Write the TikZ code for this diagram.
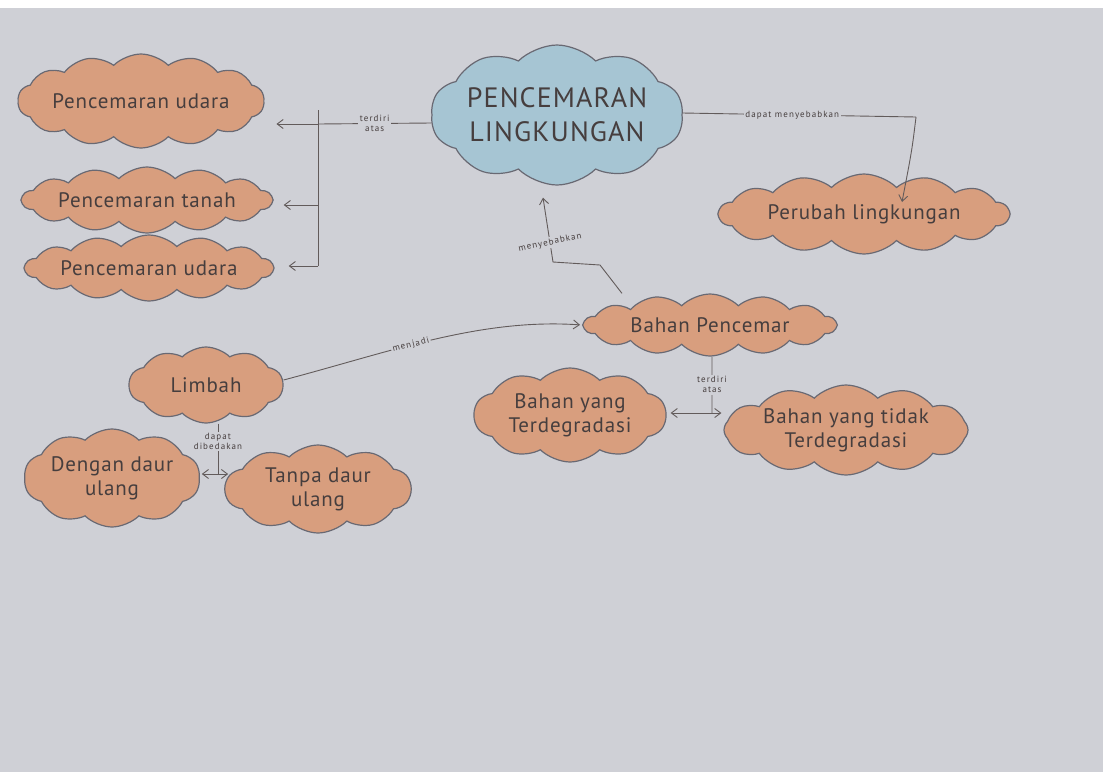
\documentclass[tikz,border=0pt]{standalone}
\usepackage{fontspec}
\setmainfont{PT Sans}
\usetikzlibrary{shapes.symbols,arrows.meta}
\definecolor{paper}{RGB}{207,208,214}
\definecolor{orangefill}{RGB}{216,158,126}
\definecolor{bluefill}{RGB}{166,197,211}
\definecolor{edge}{RGB}{105,105,115}
\definecolor{ink}{RGB}{70,62,62}
\tikzset{
 blob/.style={cloud, cloud puffs=#1, cloud puff arc=90, cloud ignores aspect,
   draw=edge, line width=1.2pt, fill=orangefill, text=ink,
   font=\fontsize{21}{24}\selectfont\addfontfeature{LetterSpace=4}, align=center, inner sep=0pt},
 conn/.style={draw=ink!85, line width=0.9pt},
 arr/.style={conn, -{Straight Barb[length=6pt,width=9pt]}},
 darr/.style={conn, {Straight Barb[length=6pt,width=9pt]}-{Straight Barb[length=6pt,width=9pt]}},
 lbl/.style={font=\fontsize{9}{10}\selectfont\addfontfeature{LetterSpace=12}, text=ink, inner sep=1.5pt, fill=paper, align=center}
}
\begin{document}
\begin{tikzpicture}[x=1pt,y=-1pt]
\useasboundingbox (0,0) rectangle (1103,772);
\fill[white] (0,0) rectangle (1103,8);
\fill[paper] (0,8) rectangle (1103,772);

% nodes
\node[blob=10, fill=bluefill, minimum width=252, minimum height=140,
      font=\fontsize{28}{34}\selectfont\addfontfeature{LetterSpace=4}] (main) at (557,115) {PENCEMARAN\\LINGKUNGAN};
\node[blob=14, minimum width=244, minimum height=94] (udara1) at (141,101) {Pencemaran udara};
\node[blob=14, minimum width=250, minimum height=66] (tanah) at (147,200) {Pencemaran tanah};
\node[blob=14, minimum width=248, minimum height=66] (udara2) at (149,268) {Pencemaran udara};
\node[blob=14, minimum width=290, minimum height=80] (perubah) at (864,214) {Perubah lingkungan};
\node[blob=14, minimum width=252, minimum height=62] (bahan) at (710,325) {Bahan Pencemar};
\node[blob=10, minimum width=154, minimum height=76] (limbah) at (206,385) {Limbah};
\node[blob=10, minimum width=192, minimum height=94] (degr) at (570,415) {Bahan yang\\Terdegradasi};
\node[blob=12, minimum width=244, minimum height=90] (tidak) at (846,430) {Bahan yang tidak\\Terdegradasi};
\node[blob=10, minimum width=176, minimum height=98] (dengan) at (112,478) {Dengan daur\\ulang};
\node[blob=10, minimum width=186, minimum height=88] (tanpa) at (318,489) {Tanpa daur\\ulang};

% terdiri atas (left bracket)
\coordinate (j1) at (318,124);
\coordinate (j2) at (318,205);
\coordinate (j3) at (318,266);
\coordinate (jt) at (318,110);
\draw[conn] ([yshift=-8pt]main.west) -- node[lbl]{terdiri\\atas} (j1);
\draw[conn] (jt) -- (j3);
\draw[arr] (j1) -- ([xshift=12pt]udara1.east |- j1);
\draw[arr] (j2) -- ([xshift=10pt]tanah.east |- j2);
\draw[arr] (j3) -- ([xshift=14pt]udara2.east |- j3);

% dapat menyebabkan
\coordinate (k1) at (916,117);
\coordinate (k2) at (902,202);
\draw[conn] ([yshift=2pt]main.east) -- node[lbl,pos=0.47]{dapat menyebabkan} (k1);
\draw[arr] (k1) .. controls (912,150) .. (k2);

% menyebabkan
\coordinate (m0) at (600,265);
\coordinate (m1) at (553,262);
\draw[arr] ([xshift=-88pt]bahan.north) -- (m0) -- (m1)
   -- node[lbl,rotate=12,pos=0.3]{menyebabkan} ([xshift=-14pt,yshift=-12pt]main.south);

% menjadi
\draw[arr] ([yshift=5pt]limbah.east) .. controls (390,352) and (480,318) ..
   node[lbl,sloped,pos=0.42]{menjadi} ([xshift=-2pt]bahan.west);

% terdiri atas (bahan)
\coordinate (t1) at (712,413);
\draw[conn] ([xshift=2pt]bahan.south) -- node[lbl]{terdiri\\atas} (t1);
\draw[darr] ([xshift=4pt]degr.east |- t1) -- ([xshift=-2pt]tidak.west |- t1);

% dapat dibedakan (limbah)
\coordinate (d1) at (218,474);
\draw[conn] ([xshift=12pt]limbah.south) -- node[lbl,pos=0.35]{dapat\\dibedakan} (d1);
\draw[darr] ([xshift=2pt]dengan.east |- d1) -- ([xshift=4pt]tanpa.west |- d1);
\end{tikzpicture}
\end{document}
